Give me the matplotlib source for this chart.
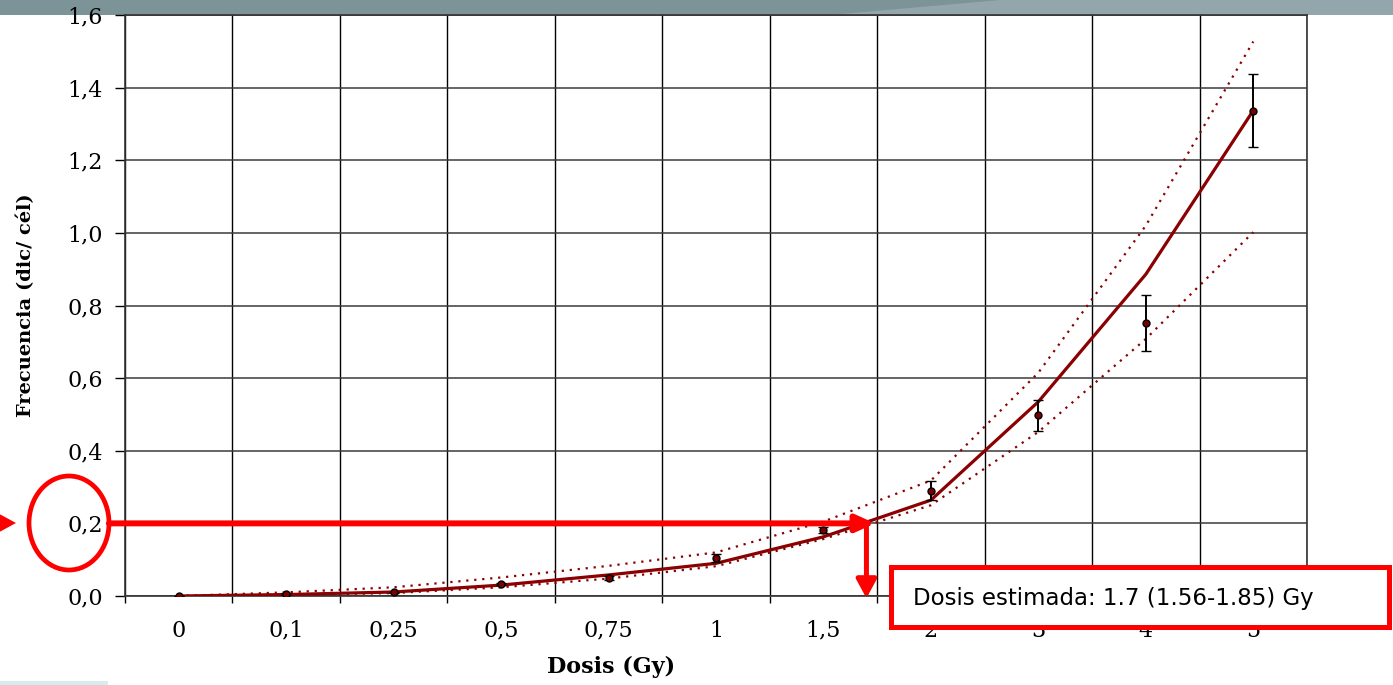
import numpy as np
import matplotlib
matplotlib.use('Agg')
import matplotlib.pyplot as plt
from matplotlib.patches import Rectangle, Ellipse, Polygon, FancyArrowPatch

# dose categories (Gy) and tick labels
doses = [0, 0.1, 0.25, 0.5, 0.75, 1, 1.5, 2, 3, 4, 5]
dose_labels = ['0', '0,1', '0,25', '0,5', '0,75', '1', '1,5', '2', '3', '4', '5']

# observed dicentric frequency (dic/cel) with error
freq_obs = [0.0, 0.005, 0.010, 0.033, 0.050, 0.105, 0.182, 0.290, 0.498, 0.751, 1.337]
freq_err = [0.0, 0.002, 0.002, 0.003, 0.005, 0.011, 0.009, 0.026, 0.043, 0.077, 0.100]

# fitted curve and confidence limits
fit = [0.0, 0.004, 0.011, 0.030, 0.058, 0.090, 0.163, 0.264, 0.535, 0.886, 1.337]
upper = [0.0, 0.010, 0.024, 0.051, 0.083, 0.120, 0.205, 0.318, 0.615, 1.020, 1.527]
lower = [0.0, 0.003, 0.008, 0.024, 0.048, 0.082, 0.157, 0.250, 0.452, 0.708, 1.002]

# estimated dose annotation
est_freq = 0.2
est_dose = 1.7
est_text = 'Dosis estimada: 1.7 (1.56-1.85) Gy'

W, H = 1393, 685
def fx(x):
    return x / W
def fy(y):
    return 1 - y / H

dark_red = '#8b0000'
red = '#ff0000'

fig = plt.figure(figsize=(W / 100, H / 100), dpi=100)
fig.patch.set_facecolor('white')

# slide header band at the top
fig.add_artist(Rectangle((0, fy(15)), 1, 15 / H, transform=fig.transFigure,
                         facecolor='#7c9398', edgecolor='none', zorder=-1))
fig.add_artist(Polygon([(fx(830), fy(15)), (fx(1000), fy(0)), (1, 1), (1, fy(15))],
                       closed=True, transform=fig.transFigure,
                       facecolor='#93a6ab', edgecolor='none', zorder=-1))
fig.add_artist(Rectangle((0, 0), fx(108), 4 / H, transform=fig.transFigure,
                         facecolor='#d6edf0', edgecolor='none', zorder=-1))

ax = fig.add_axes([fx(125), fy(596), (1307 - 125) / W, 581 / H])
x = np.arange(len(doses))

ax.plot(x, upper, color=dark_red, lw=1.6, ls=(0, (1.0, 2.6)), zorder=3)
ax.plot(x, lower, color=dark_red, lw=1.6, ls=(0, (1.0, 2.6)), zorder=3)
ax.plot(x, fit, color=dark_red, lw=2.3, zorder=4)
ax.errorbar(x, freq_obs, yerr=freq_err, fmt='o', ms=5, mfc='#7a0000', mec='black',
            mew=1, ecolor='black', elinewidth=1.4, capsize=3.8, capthick=1.4, zorder=5)

ax.set_xlim(-0.5, len(doses) - 0.5)
ax.set_ylim(0, 1.6)
ax.set_xticks(x)
ax.set_xticklabels(dose_labels, family='DejaVu Serif', fontsize=16)
ax.set_xticks(np.arange(-0.5, len(doses)), minor=True)
ax.set_yticks(np.arange(0, 1.61, 0.2))
ax.set_yticklabels([f'{v:.1f}'.replace('.', ',') for v in np.arange(0, 1.61, 0.2)],
                   family='DejaVu Serif', fontsize=16)
ax.tick_params(axis='x', which='major', length=0, pad=17)
ax.tick_params(axis='x', which='minor', length=5, width=1, direction='out')
ax.tick_params(axis='y', length=7, width=1, direction='out', pad=9)
ax.grid(True, axis='x', which='minor', color='black', lw=1)
ax.grid(True, axis='y', which='major', color='#3a3a3a', lw=1.1)
ax.set_axisbelow(True)
for s in ax.spines.values():
    s.set_color('#333333')
    s.set_linewidth(1.2)

ax.set_xlabel('Dosis (Gy)', family='DejaVu Serif', fontweight='bold', fontsize=16)
ax.xaxis.label.set_va('center')
ax.xaxis.set_label_coords(0.411, -0.122)
ax.set_ylabel('Frecuencia (dic/ cél)', family='DejaVu Serif', fontweight='bold', fontsize=14)
ax.yaxis.set_label_coords(-0.076, 0.5)

# estimated dose arrows
x_est = np.interp(est_dose, doses, x)
ax.add_patch(FancyArrowPatch((-0.65, est_freq), (x_est + 0.08, est_freq),
                             arrowstyle='-|>,head_length=0.55,head_width=0.25',
                             mutation_scale=20, lw=4.3, color=red, shrinkA=0, shrinkB=0,
                             clip_on=False, zorder=8))
ax.add_patch(FancyArrowPatch((x_est, est_freq), (x_est, -0.006),
                             arrowstyle='-|>,head_length=0.55,head_width=0.3',
                             mutation_scale=20, lw=3.6, color=red, shrinkA=0, shrinkB=0,
                             clip_on=False, zorder=8))

# ellipse around 0,2 label and small pointer
fig.add_artist(Ellipse((fx(69), fy(523)), 80 / W, 94 / H, transform=fig.transFigure,
                       facecolor='none', edgecolor=red, lw=3.4, zorder=10))
fig.add_artist(Polygon([(fx(-8), fy(510)), (fx(16), fy(523)), (fx(-8), fy(536))],
                       closed=True, transform=fig.transFigure,
                       facecolor=red, edgecolor='none', zorder=10))

# result box
fig.add_artist(Rectangle((fx(891), fy(627)), (1389 - 891) / W, 60 / H,
                         transform=fig.transFigure, facecolor='white',
                         edgecolor=red, lw=3.6, zorder=10))
fig.text(fx(913), fy(598), est_text, fontsize=16.5, ha='left', va='center',
         color='black', zorder=11)

fig.savefig('out.png', dpi=100)
